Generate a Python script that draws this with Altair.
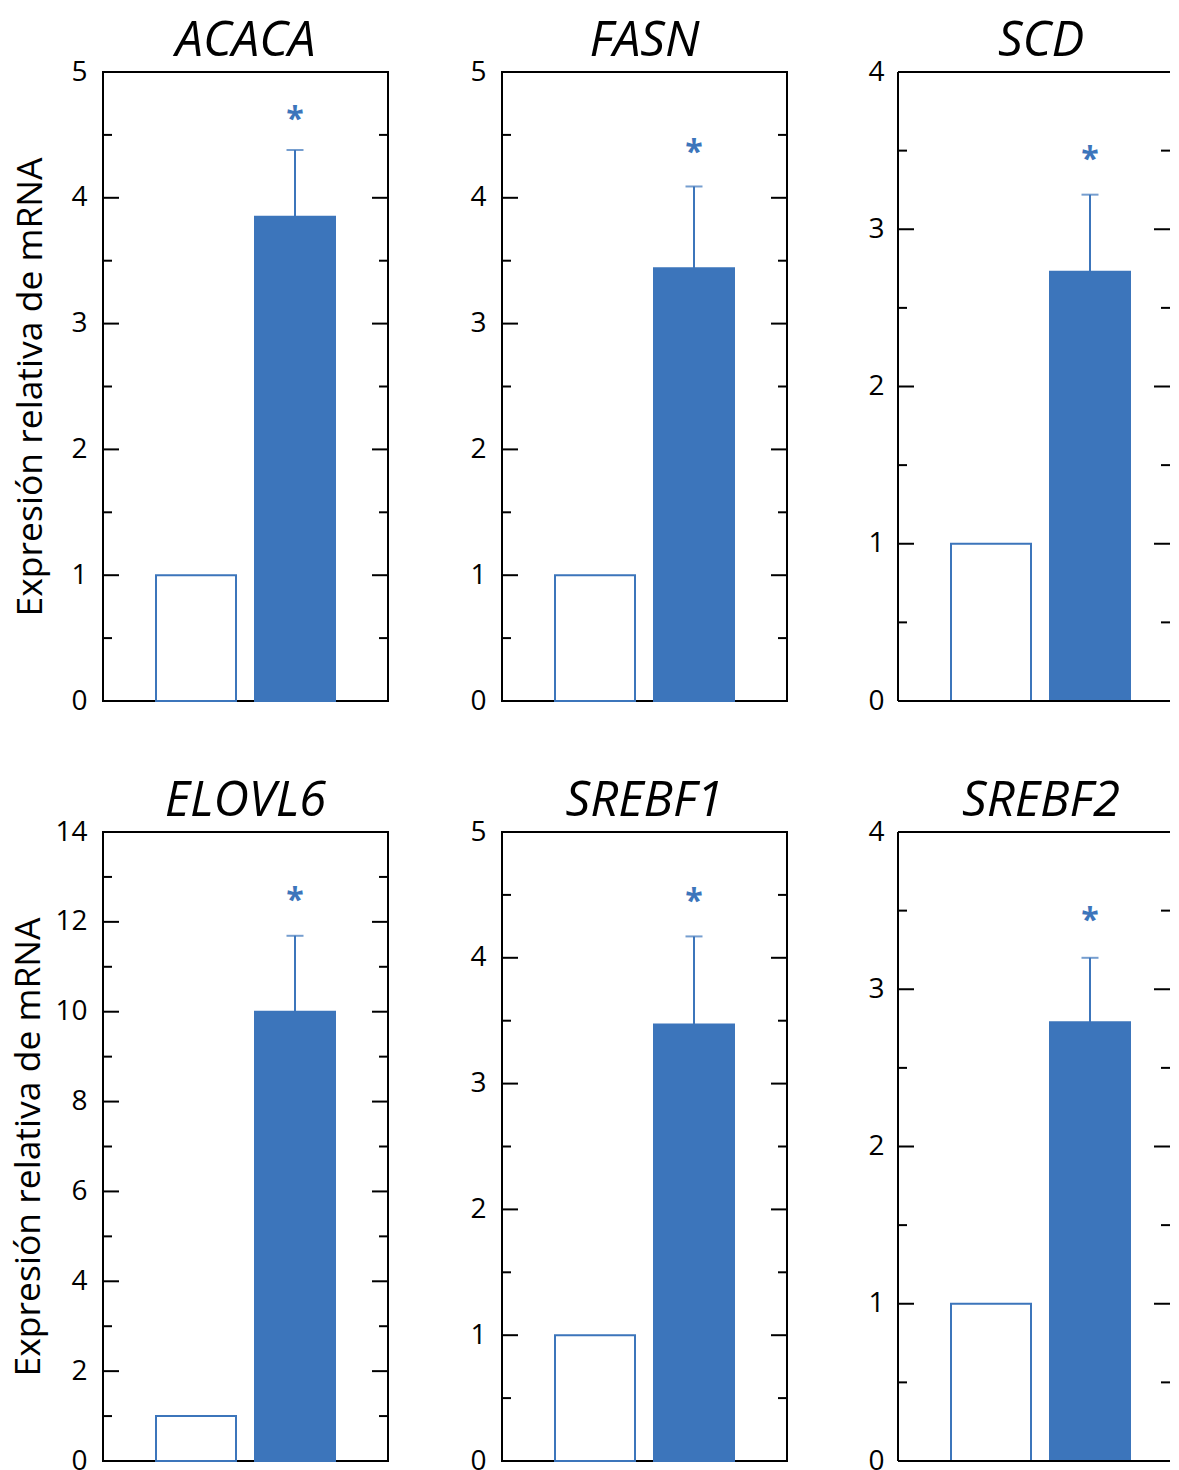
import altair as alt
import pandas as pd
import numpy as np

genes = ["ACACA", "FASN", "SCD", "ELOVL6", "SREBF1", "SREBF2"]
groups = ["Control", "Tratado"]
control_vals = [1.0, 1.0, 1.0, 1.0, 1.0, 1.0]
treated_vals = [3.85, 3.44, 2.73, 10.0, 3.47, 2.79]
treated_upper = [4.38, 4.09, 3.22, 11.69, 4.17, 3.20]
star_pos = [4.67, 4.40, 3.48, 12.6, 4.49, 3.47]
y_max = [5, 5, 4, 14, 5, 4]
major_step = [1, 1, 1, 2, 1, 1]
y_title = "Expresión relativa de mRNA"

BLUE = "#3c75bb"
H = 629
FONT = "Open Sans"
MAJ, MIN = 16, 9
STEP, BAR, LEFT = 99.0, 80.0, 53.0

panels = []
for i, g in enumerate(genes):
    col = i % 3
    row = i // 3
    W = 272 if col == 2 else 285
    bars = pd.DataFrame({"grupo": groups, "valor": [control_vals[i], treated_vals[i]]})
    err = pd.DataFrame({"grupo": [groups[1]], "valor": [treated_vals[i]],
                        "sup": [treated_upper[i]], "estrella": [star_pos[i]]})
    majors = [float(v) for v in np.arange(major_step[i], y_max[i] - 1e-9, major_step[i])]
    minors = [float(v) for v in np.arange(major_step[i] / 2, y_max[i], major_step[i])]
    maj_df = pd.DataFrame({"valor": majors})
    min_df = pd.DataFrame({"valor": minors})
    label_vals = [float(v) for v in np.arange(0, y_max[i] + 1e-9, major_step[i])]

    axis_kw = dict(values=label_vals, ticks=False, domain=False, grid=False,
                   labelFont=FONT, labelFontSize=28, labelColor="black",
                   labelPadding=14 if col == 2 else 16, format="d")
    if col == 0:
        axis_kw.update(title=y_title, titleFont=FONT, titleFontSize=35.5,
                       titleFontWeight="normal", titleColor="black",
                       titlePadding=22 if row == 0 else 8)
    else:
        axis_kw.update(title=None)
    yscale = alt.Scale(domain=[0, y_max[i]], nice=False)

    def Y(field):
        return alt.Y(field + ":Q", scale=yscale, axis=alt.Axis(**axis_kw))

    pin = 1 - BAR / STEP
    total_outer = W / STEP - (2 - pin)
    xscale = alt.Scale(domain=groups, paddingInner=pin, paddingOuter=total_outer / 2,
                       align=LEFT / (total_outer * STEP))
    xenc = alt.X("grupo:N", scale=xscale, axis=None)

    bar = alt.Chart(bars).mark_bar(strokeWidth=2, stroke=BLUE).encode(
        x=xenc, y=Y("valor"),
        fill=alt.Fill("grupo:N", scale=alt.Scale(domain=groups, range=["white", BLUE]), legend=None),
    )
    erule = alt.Chart(err).mark_rule(color=BLUE, strokeWidth=2).encode(
        x=xenc, y=Y("valor"), y2="sup:Q")
    ecap = alt.Chart(err).mark_tick(color=BLUE, size=17, thickness=2).encode(
        x=xenc, y=Y("sup"))
    star = alt.Chart(err).mark_text(text="*", font=FONT, fontSize=32, fontWeight="bold",
                                    color=BLUE, baseline="middle", dy=6).encode(
        x=xenc, y=Y("estrella"))
    lt_maj = alt.Chart(maj_df).mark_rule(color="black", strokeWidth=2).encode(
        x=alt.value(0), x2=alt.value(MAJ), y=Y("valor"))
    rt_maj = alt.Chart(maj_df).mark_rule(color="black", strokeWidth=2).encode(
        x=alt.value(W - MAJ), x2=alt.value(W), y=Y("valor"))
    lt_min = alt.Chart(min_df).mark_rule(color="black", strokeWidth=2).encode(
        x=alt.value(0), x2=alt.value(MIN), y=Y("valor"))
    rt_min = alt.Chart(min_df).mark_rule(color="black", strokeWidth=2).encode(
        x=alt.value(W - MIN), x2=alt.value(W), y=Y("valor"))

    layers = [bar, erule, ecap, star, lt_maj, rt_maj, lt_min, rt_min]
    title_kw = dict(font=FONT, fontSize=49, fontStyle="italic", fontWeight="normal",
                    color="black", offset=-8, anchor="middle")
    if col == 2:
        title_kw["dx"] = 7
    props = dict(width=W, height=H, title=alt.TitleParams(g, **title_kw))
    if col == 2:
        # right edge of this panel falls outside the picture: frame drawn on three sides only
        frame_l = alt.Chart(bars).mark_rule(color="black", strokeWidth=2).encode(
            x=alt.value(0), y=alt.value(0), y2=alt.value(H))
        frame_t = alt.Chart(bars).mark_rule(color="black", strokeWidth=2).encode(
            x=alt.value(0), x2=alt.value(W), y=alt.value(0))
        frame_b = alt.Chart(bars).mark_rule(color="black", strokeWidth=2).encode(
            x=alt.value(0), x2=alt.value(W), y=alt.value(H))
        layers += [frame_l, frame_t, frame_b]
        props["view"] = alt.ViewBackground(strokeOpacity=0)
    panel = alt.layer(*layers).properties(**props)
    panels.append(panel)

chart = alt.concat(*panels, columns=3, spacing={"row": 60, "column": 78}).properties(
    padding={"left": 2, "top": 8, "right": 0, "bottom": 0}
).configure_view(stroke="black", strokeWidth=2)

chart.save("out.html", embed_options={"renderer": "svg", "actions": False})
